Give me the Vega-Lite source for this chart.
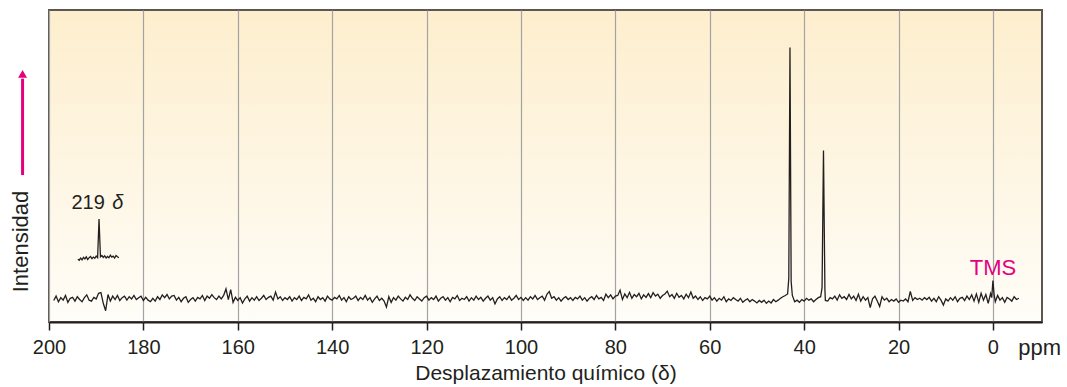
{
"$schema": "https://vega.github.io/schema/vega-lite/v6.json",
"width": 993, "height": 312,
"autosize": {"type": "none"},
"padding": {"left": 49, "top": 10, "right": 25, "bottom": 65},
"background": "#ffffff",
"config": {
  "font": "Liberation Sans",
  "view": {"stroke": "#5b5651", "strokeWidth": 2, "fill": {"gradient": "linear", "x1": 0, "y1": 0, "x2": 0, "y2": 1, "stops": [{"offset": 0, "color": "#fdeecd"}, {"offset": 1, "color": "#fffdf8"}]}}
},
"datasets": {
"spec": [
{"p":199.0,"i":6.9},{"p":198.5,"i":8.3},{"p":198.0,"i":6.5},{"p":197.5,"i":7.8},{"p":197.0,"i":7.0},{"p":196.5,"i":8.5},{"p":196.0,"i":6.3},{"p":195.5,"i":7.6},{"p":195.0,"i":7.9},{"p":194.5,"i":6.7},{"p":194.0,"i":8.1},{"p":193.5,"i":7.2},{"p":193.0,"i":6.5},{"p":192.5,"i":7.8},{"p":192.0,"i":8.7},{"p":191.5,"i":7.0},{"p":191.0,"i":6.7},{"p":190.5,"i":7.9},{"p":190.0,"i":7.4},{"p":189.5,"i":9.2},
{"p":189.0,"i":9.4},{"p":188.5,"i":6.0},{"p":188.0,"i":3.6},{"p":187.5,"i":8.8},{"p":187.0,"i":6.7},{"p":186.5,"i":8.3},{"p":186.0,"i":7.2},{"p":185.5,"i":8.5},{"p":185.0,"i":6.9},{"p":184.5,"i":7.8},{"p":184.0,"i":8.3},{"p":183.5,"i":7.0},{"p":183.0,"i":8.1},{"p":182.5,"i":7.4},{"p":182.0,"i":8.5},{"p":181.5,"i":7.2},{"p":181.0,"i":7.8},{"p":180.5,"i":8.3},{"p":180.0,"i":6.9},{"p":179.5,"i":7.9},
{"p":179.0,"i":7.0},{"p":178.5,"i":6.5},{"p":178.0,"i":7.6},{"p":177.5,"i":6.7},{"p":177.0,"i":8.1},{"p":176.5,"i":7.2},{"p":176.0,"i":8.7},{"p":175.5,"i":7.8},{"p":175.0,"i":8.8},{"p":174.5,"i":7.4},{"p":174.0,"i":8.3},{"p":173.5,"i":8.5},{"p":173.0,"i":7.0},{"p":172.5,"i":7.9},{"p":172.0,"i":6.5},{"p":171.5,"i":7.6},{"p":171.0,"i":8.1},{"p":170.5,"i":6.3},{"p":170.0,"i":7.2},{"p":169.5,"i":7.8},
{"p":169.0,"i":6.7},{"p":168.5,"i":7.9},{"p":168.0,"i":7.4},{"p":167.5,"i":8.5},{"p":167.0,"i":6.9},{"p":166.5,"i":8.3},{"p":166.0,"i":7.6},{"p":165.5,"i":8.8},{"p":165.0,"i":7.8},{"p":164.5,"i":7.2},{"p":164.0,"i":8.3},{"p":163.5,"i":7.4},{"p":163.0,"i":8.5},{"p":162.5,"i":10.6},{"p":162.0,"i":7.2},{"p":161.5,"i":10.4},{"p":161.0,"i":6.3},{"p":160.5,"i":7.9},{"p":160.0,"i":6.9},{"p":159.5,"i":7.8},
{"p":159.0,"i":6.1},{"p":158.5,"i":7.4},{"p":158.0,"i":8.3},{"p":157.5,"i":6.7},{"p":157.0,"i":7.8},{"p":156.5,"i":7.0},{"p":156.0,"i":8.1},{"p":155.5,"i":6.9},{"p":155.0,"i":7.6},{"p":154.5,"i":8.5},{"p":154.0,"i":7.2},{"p":153.5,"i":7.9},{"p":153.0,"i":8.3},{"p":152.5,"i":7.0},{"p":152.0,"i":9.6},{"p":151.5,"i":7.4},{"p":151.0,"i":8.1},{"p":150.5,"i":6.9},{"p":150.0,"i":7.8},{"p":149.5,"i":7.2},
{"p":149.0,"i":8.1},{"p":148.5,"i":6.7},{"p":148.0,"i":7.8},{"p":147.5,"i":7.2},{"p":147.0,"i":8.3},{"p":146.5,"i":6.9},{"p":146.0,"i":7.9},{"p":145.5,"i":7.4},{"p":145.0,"i":8.7},{"p":144.5,"i":7.0},{"p":144.0,"i":7.6},{"p":143.5,"i":6.5},{"p":143.0,"i":8.1},{"p":142.5,"i":7.2},{"p":142.0,"i":7.8},{"p":141.5,"i":6.7},{"p":141.0,"i":8.3},{"p":140.5,"i":7.4},{"p":140.0,"i":7.0},{"p":139.5,"i":7.9},
{"p":139.0,"i":7.4},{"p":138.5,"i":8.5},{"p":138.0,"i":7.0},{"p":137.5,"i":7.8},{"p":137.0,"i":6.5},{"p":136.5,"i":8.1},{"p":136.0,"i":7.2},{"p":135.5,"i":7.6},{"p":135.0,"i":8.3},{"p":134.5,"i":6.9},{"p":134.0,"i":7.9},{"p":133.5,"i":7.2},{"p":133.0,"i":8.5},{"p":132.5,"i":7.0},{"p":132.0,"i":7.8},{"p":131.5,"i":6.3},{"p":131.0,"i":7.4},{"p":130.5,"i":8.3},{"p":130.0,"i":6.9},{"p":129.5,"i":7.6},
{"p":129.0,"i":6.7},{"p":128.5,"i":4.8},{"p":128.0,"i":8.1},{"p":127.5,"i":6.3},{"p":127.0,"i":7.8},{"p":126.5,"i":7.0},{"p":126.0,"i":8.3},{"p":125.5,"i":7.4},{"p":125.0,"i":6.7},{"p":124.5,"i":7.9},{"p":124.0,"i":7.2},{"p":123.5,"i":8.7},{"p":123.0,"i":7.6},{"p":122.5,"i":6.9},{"p":122.0,"i":8.1},{"p":121.5,"i":7.4},{"p":121.0,"i":6.7},{"p":120.5,"i":7.8},{"p":120.0,"i":8.3},{"p":119.5,"i":7.0},
{"p":119.0,"i":7.8},{"p":118.5,"i":7.2},{"p":118.0,"i":8.3},{"p":117.5,"i":6.7},{"p":117.0,"i":7.6},{"p":116.5,"i":8.1},{"p":116.0,"i":7.0},{"p":115.5,"i":7.8},{"p":115.0,"i":6.5},{"p":114.5,"i":7.9},{"p":114.0,"i":7.4},{"p":113.5,"i":8.5},{"p":113.0,"i":6.9},{"p":112.5,"i":7.6},{"p":112.0,"i":7.2},{"p":111.5,"i":8.1},{"p":111.0,"i":6.7},{"p":110.5,"i":7.8},{"p":110.0,"i":7.0},{"p":109.5,"i":8.3},
{"p":109.0,"i":7.2},{"p":108.5,"i":7.9},{"p":108.0,"i":6.7},{"p":107.5,"i":7.6},{"p":107.0,"i":8.3},{"p":106.5,"i":7.0},{"p":106.0,"i":7.8},{"p":105.5,"i":5.8},{"p":105.0,"i":7.4},{"p":104.5,"i":8.1},{"p":104.0,"i":6.9},{"p":103.5,"i":7.8},{"p":103.0,"i":7.2},{"p":102.5,"i":8.3},{"p":102.0,"i":7.0},{"p":101.5,"i":7.6},{"p":101.0,"i":8.5},{"p":100.5,"i":7.2},{"p":100.0,"i":7.9},{"p":99.5,"i":6.9},
{"p":99.0,"i":7.8},{"p":98.5,"i":7.0},{"p":98.0,"i":8.1},{"p":97.5,"i":7.4},{"p":97.0,"i":8.5},{"p":96.5,"i":7.2},{"p":96.0,"i":7.8},{"p":95.5,"i":8.3},{"p":95.0,"i":7.0},{"p":94.5,"i":8.9},{"p":94.0,"i":9.8},{"p":93.5,"i":7.6},{"p":93.0,"i":8.1},{"p":92.5,"i":7.0},{"p":92.0,"i":7.8},{"p":91.5,"i":6.7},{"p":91.0,"i":7.6},{"p":90.5,"i":8.1},{"p":90.0,"i":7.2},{"p":89.5,"i":7.8},
{"p":89.0,"i":6.9},{"p":88.5,"i":7.9},{"p":88.0,"i":7.4},{"p":87.5,"i":8.3},{"p":87.0,"i":7.0},{"p":86.5,"i":7.8},{"p":86.0,"i":6.7},{"p":85.5,"i":7.6},{"p":85.0,"i":8.1},{"p":84.5,"i":7.2},{"p":84.0,"i":8.5},{"p":83.5,"i":7.4},{"p":83.0,"i":7.9},{"p":82.5,"i":6.9},{"p":82.0,"i":8.9},{"p":81.5,"i":7.8},{"p":81.0,"i":8.7},{"p":80.5,"i":7.4},{"p":80.0,"i":8.3},{"p":79.5,"i":8.5},
{"p":79.0,"i":10.2},{"p":78.5,"i":7.2},{"p":78.0,"i":9.0},{"p":77.5,"i":7.8},{"p":77.0,"i":9.5},{"p":76.5,"i":7.6},{"p":76.0,"i":8.8},{"p":75.5,"i":8.1},{"p":75.0,"i":9.2},{"p":74.5,"i":7.4},{"p":74.0,"i":8.7},{"p":73.5,"i":7.9},{"p":73.0,"i":9.1},{"p":72.5,"i":7.8},{"p":72.0,"i":9.4},{"p":71.5,"i":8.3},{"p":71.0,"i":8.9},{"p":70.5,"i":7.6},{"p":70.0,"i":8.5},{"p":69.5,"i":9.0},
{"p":69.0,"i":9.9},{"p":68.5,"i":8.1},{"p":68.0,"i":8.8},{"p":67.5,"i":7.6},{"p":67.0,"i":9.2},{"p":66.5,"i":7.9},{"p":66.0,"i":8.5},{"p":65.5,"i":7.4},{"p":65.0,"i":8.9},{"p":64.5,"i":7.8},{"p":64.0,"i":9.6},{"p":63.5,"i":7.6},{"p":63.0,"i":8.3},{"p":62.5,"i":7.2},{"p":62.0,"i":8.1},{"p":61.5,"i":6.9},{"p":61.0,"i":7.8},{"p":60.5,"i":7.4},{"p":60.0,"i":8.3},{"p":59.5,"i":7.0},
{"p":59.0,"i":7.8},{"p":58.5,"i":6.7},{"p":58.0,"i":7.6},{"p":57.5,"i":7.0},{"p":57.0,"i":8.1},{"p":56.5,"i":6.5},{"p":56.0,"i":7.4},{"p":55.5,"i":6.9},{"p":55.0,"i":7.8},{"p":54.5,"i":7.2},{"p":54.0,"i":6.7},{"p":53.5,"i":7.6},{"p":53.0,"i":6.3},{"p":52.5,"i":7.0},{"p":52.0,"i":7.4},{"p":51.5,"i":6.5},{"p":51.0,"i":7.2},{"p":50.5,"i":6.7},{"p":50.0,"i":6.1},{"p":49.5,"i":6.9},
{"p":49.0,"i":6.3},{"p":48.5,"i":7.0},{"p":48.0,"i":6.0},{"p":47.5,"i":6.7},{"p":47.0,"i":6.1},{"p":46.5,"i":7.2},{"p":46.0,"i":6.5},{"p":45.5,"i":7.0},{"p":45.0,"i":7.6},{"p":44.5,"i":8.1},{"p":44.0,"i":8.5},{"p":43.5,"i":9.0},{"p":43.25,"i":14.0},{"p":43.0,"i":88.0},{"p":42.75,"i":13.0},{"p":42.5,"i":8.5},{"p":42.0,"i":6.5},{"p":41.5,"i":7.0},{"p":41.0,"i":6.3},{"p":40.5,"i":7.2},{"p":40.0,"i":6.7},{"p":39.5,"i":7.6},
{"p":39.0,"i":7.0},{"p":38.5,"i":7.4},{"p":38.0,"i":6.5},{"p":37.5,"i":7.2},{"p":37.0,"i":7.8},{"p":36.5,"i":8.1},{"p":36.2,"i":11.0},{"p":35.9,"i":55.0},{"p":35.6,"i":10.5},{"p":35.5,"i":6.9},{"p":35.0,"i":6.7},{"p":34.5,"i":7.8},{"p":34.0,"i":7.4},{"p":33.5,"i":8.3},{"p":33.0,"i":7.0},{"p":32.5,"i":8.7},{"p":32.0,"i":7.6},{"p":31.5,"i":8.1},{"p":31.0,"i":7.2},{"p":30.5,"i":8.8},{"p":30.0,"i":7.4},{"p":29.5,"i":8.3},
{"p":29.0,"i":6.9},{"p":28.5,"i":8.9},{"p":28.0,"i":6.7},{"p":27.5,"i":8.1},{"p":27.0,"i":7.0},{"p":26.5,"i":7.8},{"p":26.0,"i":4.6},{"p":25.5,"i":7.4},{"p":25.0,"i":8.3},{"p":24.5,"i":6.7},{"p":24.0,"i":5.0},{"p":23.5,"i":8.1},{"p":23.0,"i":7.0},{"p":22.5,"i":7.6},{"p":22.0,"i":6.5},{"p":21.5,"i":7.2},{"p":21.0,"i":6.7},{"p":20.5,"i":7.4},{"p":20.0,"i":6.3},{"p":19.5,"i":7.0},
{"p":19.0,"i":6.7},{"p":18.5,"i":7.4},{"p":18.0,"i":6.5},{"p":17.5,"i":9.8},{"p":17.0,"i":6.9},{"p":16.5,"i":7.8},{"p":16.0,"i":7.2},{"p":15.5,"i":7.6},{"p":15.0,"i":7.0},{"p":14.5,"i":7.8},{"p":14.0,"i":7.2},{"p":13.5,"i":7.9},{"p":13.0,"i":6.7},{"p":12.5,"i":7.6},{"p":12.0,"i":6.5},{"p":11.5,"i":8.1},{"p":11.0,"i":7.0},{"p":10.5,"i":5.4},{"p":10.0,"i":7.4},{"p":9.5,"i":6.7},
{"p":9.0,"i":7.8},{"p":8.5,"i":7.0},{"p":8.0,"i":8.1},{"p":7.5,"i":6.5},{"p":7.0,"i":7.6},{"p":6.5,"i":7.9},{"p":6.0,"i":6.9},{"p":5.5,"i":8.3},{"p":5.0,"i":7.2},{"p":4.5,"i":8.7},{"p":4.0,"i":6.7},{"p":3.5,"i":9.0},{"p":3.0,"i":6.3},{"p":2.5,"i":9.2},{"p":2.0,"i":7.0},{"p":1.5,"i":8.8},{"p":1.0,"i":6.0},{"p":0.5,"i":9.1},{"p":0.25,"i":7.8},{"p":0.0,"i":13.3},{"p":-0.25,"i":8.8},
{"p":-0.5,"i":6.5},{"p":-1.0,"i":8.5},{"p":-1.5,"i":7.0},{"p":-2.0,"i":7.8},{"p":-2.5,"i":6.3},{"p":-3.0,"i":7.9},{"p":-3.5,"i":7.4},{"p":-4.0,"i":6.7},{"p":-4.5,"i":8.1},{"p":-5.0,"i":7.2},{"p":-5.5,"i":7.6}
],
"inset": [
{"p":193.9,"i":20.1},{"p":193.6,"i":19.8},{"p":193.3,"i":20.5},{"p":193.0,"i":19.9},{"p":192.7,"i":20.7},{"p":192.4,"i":20.2},{"p":192.1,"i":20.9},{"p":191.8,"i":20.0},{"p":191.5,"i":20.6},{"p":191.2,"i":21.0},{"p":190.9,"i":20.3},{"p":190.6,"i":20.8},{"p":190.3,"i":20.4},{"p":190.0,"i":21.1},{"p":189.7,"i":20.6},{"p":189.4,"i":33.0},{"p":189.1,"i":20.9},{"p":188.8,"i":21.3},{"p":188.5,"i":20.7},{"p":188.2,"i":21.2},{"p":187.9,"i":20.5},{"p":187.6,"i":21.0},{"p":187.3,"i":20.6},{"p":187.0,"i":21.4},{"p":186.7,"i":20.8},{"p":186.4,"i":21.1},{"p":186.1,"i":20.5},{"p":185.8,"i":21.3},{"p":185.5,"i":20.9},{"p":185.2,"i":20.6}
]
},
"layer": [
{
 "data": {"name": "spec"},
 "mark": {"type": "line", "color": "#231f20", "strokeWidth": 1.3},
 "encoding": {
  "x": {"field": "p", "type": "quantitative", "scale": {"domain": [200, -10.4], "nice": false, "zero": false},
   "axis": {"values": [200,180,160,140,120,100,80,60,40,20,0], "grid": true, "gridColor": "#a3a3a3", "gridWidth": 1.2,
    "domainColor": "#231f20", "domainWidth": 2, "tickColor": "#231f20", "tickWidth": 1.5, "tickSize": 8,
    "labelFontSize": 20, "labelColor": "#231f20", "labelPadding": 7, "labelFlush": false, "labelOverlap": false,
    "title": "Desplazamiento químico (δ)", "titleFontSize": 21, "titleFontWeight": "normal", "titleColor": "#231f20", "titlePadding": 5}},
  "y": {"field": "i", "type": "quantitative", "scale": {"domain": [0, 100], "nice": false, "zero": false},
   "axis": {"title": "Intensidad", "domain": false, "ticks": false, "labels": false, "grid": false,
    "titleFontSize": 22, "titleFontWeight": "normal", "titleColor": "#231f20",
    "titleX": -29, "titleY": 231, "titleAngle": -90, "titleAlign": "center", "titleBaseline": "middle"}}
 }
},
{
 "data": {"name": "inset"},
 "mark": {"type": "line", "color": "#231f20", "strokeWidth": 1.3},
 "encoding": {"x": {"field": "p", "type": "quantitative"}, "y": {"field": "i", "type": "quantitative"}}
},
{
 "data": {"values": [{}]},
 "mark": {"type": "text", "text": "219", "fontSize": 20, "color": "#231f20", "baseline": "middle", "align": "center"},
 "encoding": {"x": {"datum": 191.7, "type": "quantitative"}, "y": {"datum": 38.1, "type": "quantitative"}}
},
{
 "data": {"values": [{}]},
 "mark": {"type": "text", "text": "δ", "fontSize": 20, "fontStyle": "italic", "color": "#231f20", "baseline": "middle", "align": "center"},
 "encoding": {"x": {"datum": 185.4, "type": "quantitative"}, "y": {"datum": 38.1, "type": "quantitative"}}
},
{
 "data": {"values": [{}]},
 "mark": {"type": "text", "text": "TMS", "fontSize": 22, "color": "#e6007e", "baseline": "middle", "align": "center"},
 "encoding": {"x": {"datum": 0, "type": "quantitative"}, "y": {"datum": 17.3, "type": "quantitative"}}
},
{
 "data": {"values": [{}]},
 "mark": {"type": "text", "text": "ppm", "fontSize": 22, "color": "#231f20", "baseline": "alphabetic", "align": "center"},
 "encoding": {"x": {"datum": -9.9, "type": "quantitative"}, "y": {"datum": -10.6, "type": "quantitative"}}
},
{
 "data": {"values": [{}]},
 "mark": {"type": "rule", "color": "#e6007e", "strokeWidth": 3},
 "encoding": {"x": {"datum": 205.6, "type": "quantitative"}, "y": {"datum": 47.1, "type": "quantitative"}, "y2": {"datum": 78}}
},
{
 "data": {"values": [{}]},
 "mark": {"type": "point", "shape": "triangle-up", "filled": true, "color": "#e6007e", "size": 80, "opacity": 1},
 "encoding": {"x": {"datum": 205.6, "type": "quantitative"}, "y": {"datum": 79.5, "type": "quantitative"}}
}
]
}
